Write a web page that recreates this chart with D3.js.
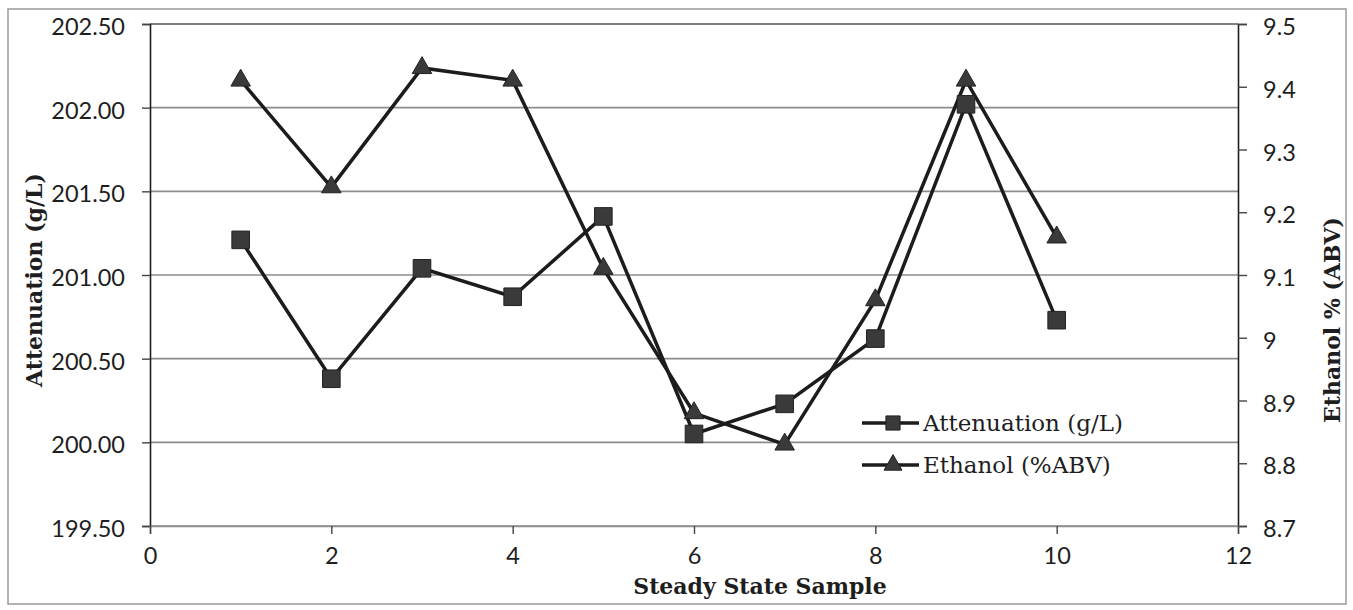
<!DOCTYPE html>
<html>
<head>
<meta charset="utf-8">
<script src="https://cdn.jsdelivr.net/npm/d3@7"></script>
<style>
  html, body { margin: 0; padding: 0; background: #fff; }
  svg { display: block; }
</style>
</head>
<body>
<svg id="chart" width="1353" height="610"></svg>
<script>
// Steady-state samples
const samples = [1, 2, 3, 4, 5, 6, 7, 8, 9, 10];
// Attenuation (g/L), left axis
const attenuation = [201.21, 200.38, 201.04, 200.87, 201.35, 200.05, 200.23, 200.62, 202.02, 200.73];
// Ethanol (%ABV), right axis
const ethanol = [9.41, 9.24, 9.43, 9.41, 9.11, 8.88, 8.83, 9.06, 9.41, 9.16];

const xTicks = [0, 2, 4, 6, 8, 10, 12];
const leftTicks = [199.5, 200.0, 200.5, 201.0, 201.5, 202.0, 202.5];
const leftTickLabels = ["199.50", "200.00", "200.50", "201.00", "201.50", "202.00", "202.50"];
const rightTicks = [8.7, 8.8, 8.9, 9.0, 9.1, 9.2, 9.3, 9.4, 9.5];
const rightTickLabels = ["8.7", "8.8", "8.9", "9", "9.1", "9.2", "9.3", "9.4", "9.5"];
const seriesNames = ["Attenuation (g/L)", "Ethanol (%ABV)"];

const svg = d3.select("#chart");
const plot = { left: 150, right: 1238, top: 24, bottom: 526 };

const x = d3.scaleLinear().domain([0, 12]).range([plot.left, plot.right]);
const yL = d3.scaleLinear().domain([199.5, 202.5]).range([plot.bottom, plot.top]);
const yR = d3.scaleLinear().domain([8.7, 9.5]).range([plot.bottom, plot.top]);

const tickFont = "Lato, 'Open Sans', sans-serif";
const serif = "'DejaVu Serif', 'Liberation Serif', serif";
const ink = "#1e1e1e";

// outer frame
svg.append("rect")
  .attr("x", 8).attr("y", 9).attr("width", 1338).attr("height", 595)
  .attr("fill", "none").attr("stroke", "#9a9a9a").attr("stroke-width", 1.5);

// horizontal gridlines from the left axis
svg.append("g").selectAll("line").data(leftTicks).join("line")
  .attr("x1", plot.left).attr("x2", plot.right)
  .attr("y1", d => yL(d)).attr("y2", d => yL(d))
  .attr("stroke", d => d === 202.5 ? "#555" : "#8c8c8c")
  .attr("stroke-width", 1.7);

// left axis
const leftAxis = d3.axisLeft(yL).tickValues(leftTicks)
  .tickFormat((d, i) => leftTickLabels[i]).tickSize(8).tickPadding(17);
const gL = svg.append("g").attr("transform", `translate(${plot.left},0)`).call(leftAxis);

// right axis
const rightAxis = d3.axisRight(yR).tickValues(rightTicks)
  .tickFormat((d, i) => rightTickLabels[i]).tickSize(9).tickPadding(16);
const gR = svg.append("g").attr("transform", `translate(${plot.right},0)`).call(rightAxis);

// bottom axis
const bottomAxis = d3.axisBottom(x).tickValues(xTicks).tickSize(8).tickPadding(13);
const gB = svg.append("g").attr("transform", `translate(0,${plot.bottom})`).call(bottomAxis);

[gL, gR, gB].forEach(g => {
  g.select(".domain").attr("stroke", ink).attr("stroke-width", 1.6);
  g.selectAll(".tick line").attr("stroke", "#444").attr("stroke-width", 1.4);
  g.selectAll(".tick text")
    .attr("fill", ink)
    .style("font-family", tickFont)
    .style("font-size", "23.5px");
});
gL.selectAll(".tick text").attr("dy", "0.45em");
gR.selectAll(".tick text").attr("dy", "0.45em");
gB.selectAll(".tick text").attr("dy", "0.71em");
gB.select(".domain").attr("stroke", "#8c8c8c").attr("stroke-width", 1.7);

// axis titles
const titleStyle = sel => sel
  .style("font-family", serif).style("font-weight", "bold").style("font-size", "22px")
  .attr("fill", ink).attr("text-anchor", "middle");

svg.append("text")
  .attr("transform", `translate(42,280) rotate(-90)`)
  .call(titleStyle)
  .text("Attenuation (g/L)");

svg.append("text")
  .attr("transform", `translate(1340,320) rotate(-90)`)
  .call(titleStyle)
  .text("Ethanol % (ABV)");

svg.append("text")
  .attr("x", 760).attr("y", 594)
  .call(titleStyle)
  .text("Steady State Sample");

// series lines
const lineColor = "#1c1c1c";
const markFill = "#3a3a3a";
const attData = samples.map((s, i) => [s, attenuation[i]]);
const ethData = samples.map((s, i) => [s, ethanol[i]]);

svg.append("path").datum(attData)
  .attr("fill", "none").attr("stroke", lineColor).attr("stroke-width", 3.5)
  .attr("d", d3.line().x(d => x(d[0])).y(d => yL(d[1])));

svg.append("path").datum(ethData)
  .attr("fill", "none").attr("stroke", lineColor).attr("stroke-width", 3.5)
  .attr("d", d3.line().x(d => x(d[0])).y(d => yR(d[1])));

const square = d3.symbol().type(d3.symbolSquare).size(310);
const triangle = d3.symbol().type(d3.symbolTriangle).size(165);

svg.append("g").selectAll("path").data(attData).join("path")
  .attr("transform", d => `translate(${x(d[0])},${yL(d[1])})`)
  .attr("d", square).attr("fill", markFill).attr("stroke", "#222").attr("stroke-width", 1);

svg.append("g").selectAll("path").data(ethData).join("path")
  .attr("transform", d => `translate(${x(d[0])},${yR(d[1])})`)
  .attr("d", triangle).attr("fill", markFill).attr("stroke", "#222").attr("stroke-width", 1);

// legend
const legend = svg.append("g").attr("transform", "translate(862,0)");
const legendRows = [
  { name: seriesNames[0], y: 423, sym: d3.symbol().type(d3.symbolSquare).size(200) },
  { name: seriesNames[1], y: 465, sym: d3.symbol().type(d3.symbolTriangle).size(140) }
];
legendRows.forEach(r => {
  legend.append("line").attr("x1", 0).attr("x2", 57).attr("y1", r.y).attr("y2", r.y)
    .attr("stroke", lineColor).attr("stroke-width", 3.5);
  legend.append("path").attr("transform", `translate(31,${r.y})`).attr("d", r.sym())
    .attr("fill", markFill).attr("stroke", "#222").attr("stroke-width", 1);
  legend.append("text").attr("x", 61).attr("y", r.y).attr("dy", "0.36em")
    .style("font-family", serif).style("font-size", "23px").attr("fill", ink)
    .text(r.name);
});
</script>
</body>
</html>
